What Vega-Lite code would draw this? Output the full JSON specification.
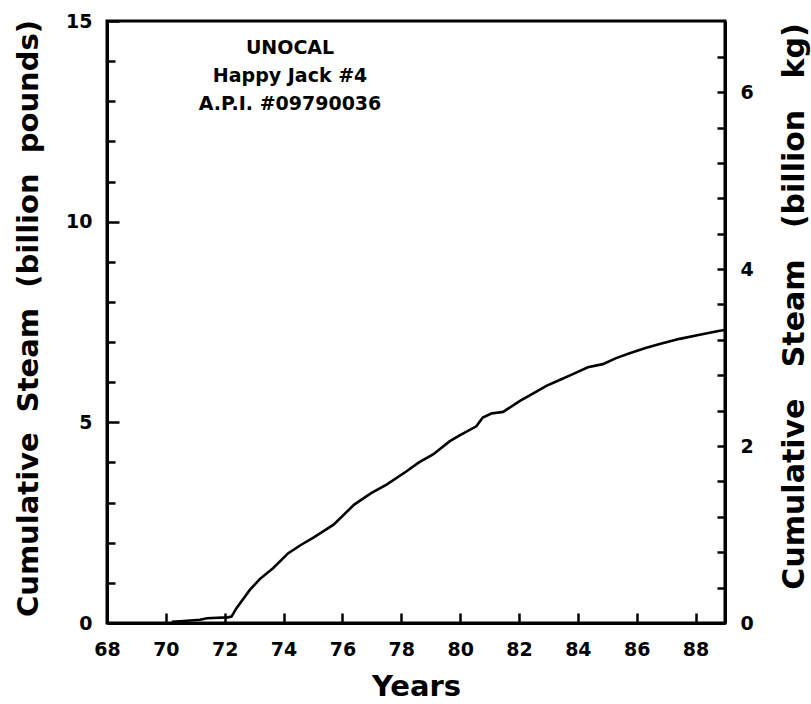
{
  "$schema": "https://vega.github.io/schema/vega-lite/v6.json",
  "width": 618,
  "height": 602,
  "autosize": "none",
  "padding": {"left": 107, "top": 21, "right": 86, "bottom": 81},
  "background": "white",
  "config": {
    "view": {"stroke": "black", "strokeWidth": 3},
    "axis": {
      "grid": false,
      "domainColor": "black",
      "domainWidth": 3,
      "tickColor": "black",
      "tickWidth": 2.5,
      "labelColor": "black",
      "labelFont": "DejaVu Sans",
      "labelFontWeight": "bold",
      "labelFontSize": 19,
      "labelFlush": false,
      "labelOverlap": false,
      "labelBound": false,
      "titleColor": "black",
      "titleFont": "DejaVu Sans",
      "titleFontWeight": "bold",
      "titleFontSize": 29
    }
  },
  "layer": [
    {
      "layer": [
        {
          "data": {
            "values": [
              {"year": 70.2, "steam": 0.03},
              {"year": 70.6, "steam": 0.05},
              {"year": 71.16, "steam": 0.08},
              {"year": 71.4, "steam": 0.12},
              {"year": 72.1, "steam": 0.14},
              {"year": 72.23, "steam": 0.16},
              {"year": 72.4, "steam": 0.37},
              {"year": 72.86, "steam": 0.83},
              {"year": 73.2, "steam": 1.1},
              {"year": 73.65, "steam": 1.37},
              {"year": 74.16, "steam": 1.74},
              {"year": 74.6, "steam": 1.95},
              {"year": 75.0, "steam": 2.12},
              {"year": 75.7, "steam": 2.45},
              {"year": 76.4, "steam": 2.95},
              {"year": 76.99, "steam": 3.24},
              {"year": 77.5, "steam": 3.45},
              {"year": 78.18, "steam": 3.78},
              {"year": 78.6, "steam": 4.0},
              {"year": 79.08, "steam": 4.2},
              {"year": 79.65, "steam": 4.53},
              {"year": 80.0, "steam": 4.68},
              {"year": 80.55, "steam": 4.9},
              {"year": 80.77, "steam": 5.12},
              {"year": 81.06, "steam": 5.22},
              {"year": 81.46, "steam": 5.26},
              {"year": 82.02, "steam": 5.53},
              {"year": 82.5, "steam": 5.73},
              {"year": 82.93, "steam": 5.91},
              {"year": 83.4, "steam": 6.06},
              {"year": 83.83, "steam": 6.2},
              {"year": 84.34, "steam": 6.37},
              {"year": 84.85, "steam": 6.45},
              {"year": 85.3, "steam": 6.6},
              {"year": 85.76, "steam": 6.72},
              {"year": 86.3, "steam": 6.85},
              {"year": 86.78, "steam": 6.95},
              {"year": 87.46, "steam": 7.08},
              {"year": 88.14, "steam": 7.18},
              {"year": 88.82, "steam": 7.28},
              {"year": 89.0, "steam": 7.3}
            ]
          },
          "mark": {"type": "line", "color": "black", "strokeWidth": 2.6, "clip": true},
          "encoding": {
            "x": {
              "field": "year",
              "type": "quantitative",
              "scale": {"domain": [68, 89], "nice": false, "zero": false},
              "axis": {
                "orient": "bottom",
                "values": [68, 69, 70, 71, 72, 73, 74, 75, 76, 77, 78, 79, 80, 81, 82, 83, 84, 85, 86, 87, 88],
                "labelExpr": "datum.value % 2 === 0 ? datum.label : ''",
                "tickSize": {"condition": {"test": "datum.value % 2 === 0", "value": -10}, "value": -5},
                "labelPadding": 27,
                "labelBaseline": "top",
                "title": "Years",
                "titleX": 309,
                "titleY": 72,
                "titleAlign": "center",
                "titleBaseline": "alphabetic"
              }
            },
            "y": {
              "field": "steam",
              "type": "quantitative",
              "scale": {"domain": [0, 15], "nice": false, "zero": true},
              "axis": {
                "orient": "left",
                "values": [0, 1, 2, 3, 4, 5, 6, 7, 8, 9, 10, 11, 12, 13, 14, 15],
                "labelExpr": "datum.value % 5 === 0 ? datum.label : ''",
                "tickSize": {"condition": {"test": "datum.value % 5 === 0", "value": -12}, "value": -8},
                "labelPadding": 27,
                "title": "Cumulative\u00a0\u00a0Steam\u00a0\u00a0(billion\u00a0\u00a0pounds)",
                "titleAngle": 270,
                "titleX": -70,
                "titleY": 297,
                "titleAlign": "center",
                "titleBaseline": "alphabetic"
              }
            }
          }
        },
        {
          "data": {
            "values": [
              {"year": 74.22, "steam": 14.33, "label": "UNOCAL"},
              {"year": 74.22, "steam": 13.62, "label": "Happy Jack #4"},
              {"year": 74.22, "steam": 12.92, "label": "A.P.I. #09790036"}
            ]
          },
          "mark": {"type": "text", "font": "DejaVu Sans", "fontWeight": "bold", "fontSize": 19, "color": "black", "align": "center", "baseline": "middle"},
          "encoding": {
            "x": {"field": "year", "type": "quantitative"},
            "y": {"field": "steam", "type": "quantitative"},
            "text": {"field": "label", "type": "nominal"}
          }
        }
      ]
    },
    {
      "data": {"values": [{"kg": 0}, {"kg": 6.804}]},
      "mark": {"type": "point", "opacity": 0},
      "encoding": {
        "y": {
          "field": "kg",
          "type": "quantitative",
          "scale": {"domain": [0, 6.804], "nice": false, "zero": true},
          "axis": {
            "orient": "right",
            "values": [0, 0.4, 0.8, 1.2, 1.6, 2, 2.4, 2.8, 3.2, 3.6, 4, 4.4, 4.8, 5.2, 5.6, 6, 6.4],
            "labelExpr": "abs(datum.value - round(datum.value / 2) * 2) < 0.01 ? format(datum.value, 'd') : ''",
            "tickSize": -8,
            "labelPadding": 23,
            "title": "Cumulative\u00a0\u00a0\u00a0Steam\u00a0\u00a0\u00a0(billion\u00a0\u00a0\u00a0kg)",
            "titleFontSize": 30,
            "titleAngle": 270,
            "titleX": 78,
            "titleY": 285,
            "titleAlign": "center",
            "titleBaseline": "alphabetic"
          }
        }
      }
    }
  ],
  "resolve": {"scale": {"y": "independent"}}
}
